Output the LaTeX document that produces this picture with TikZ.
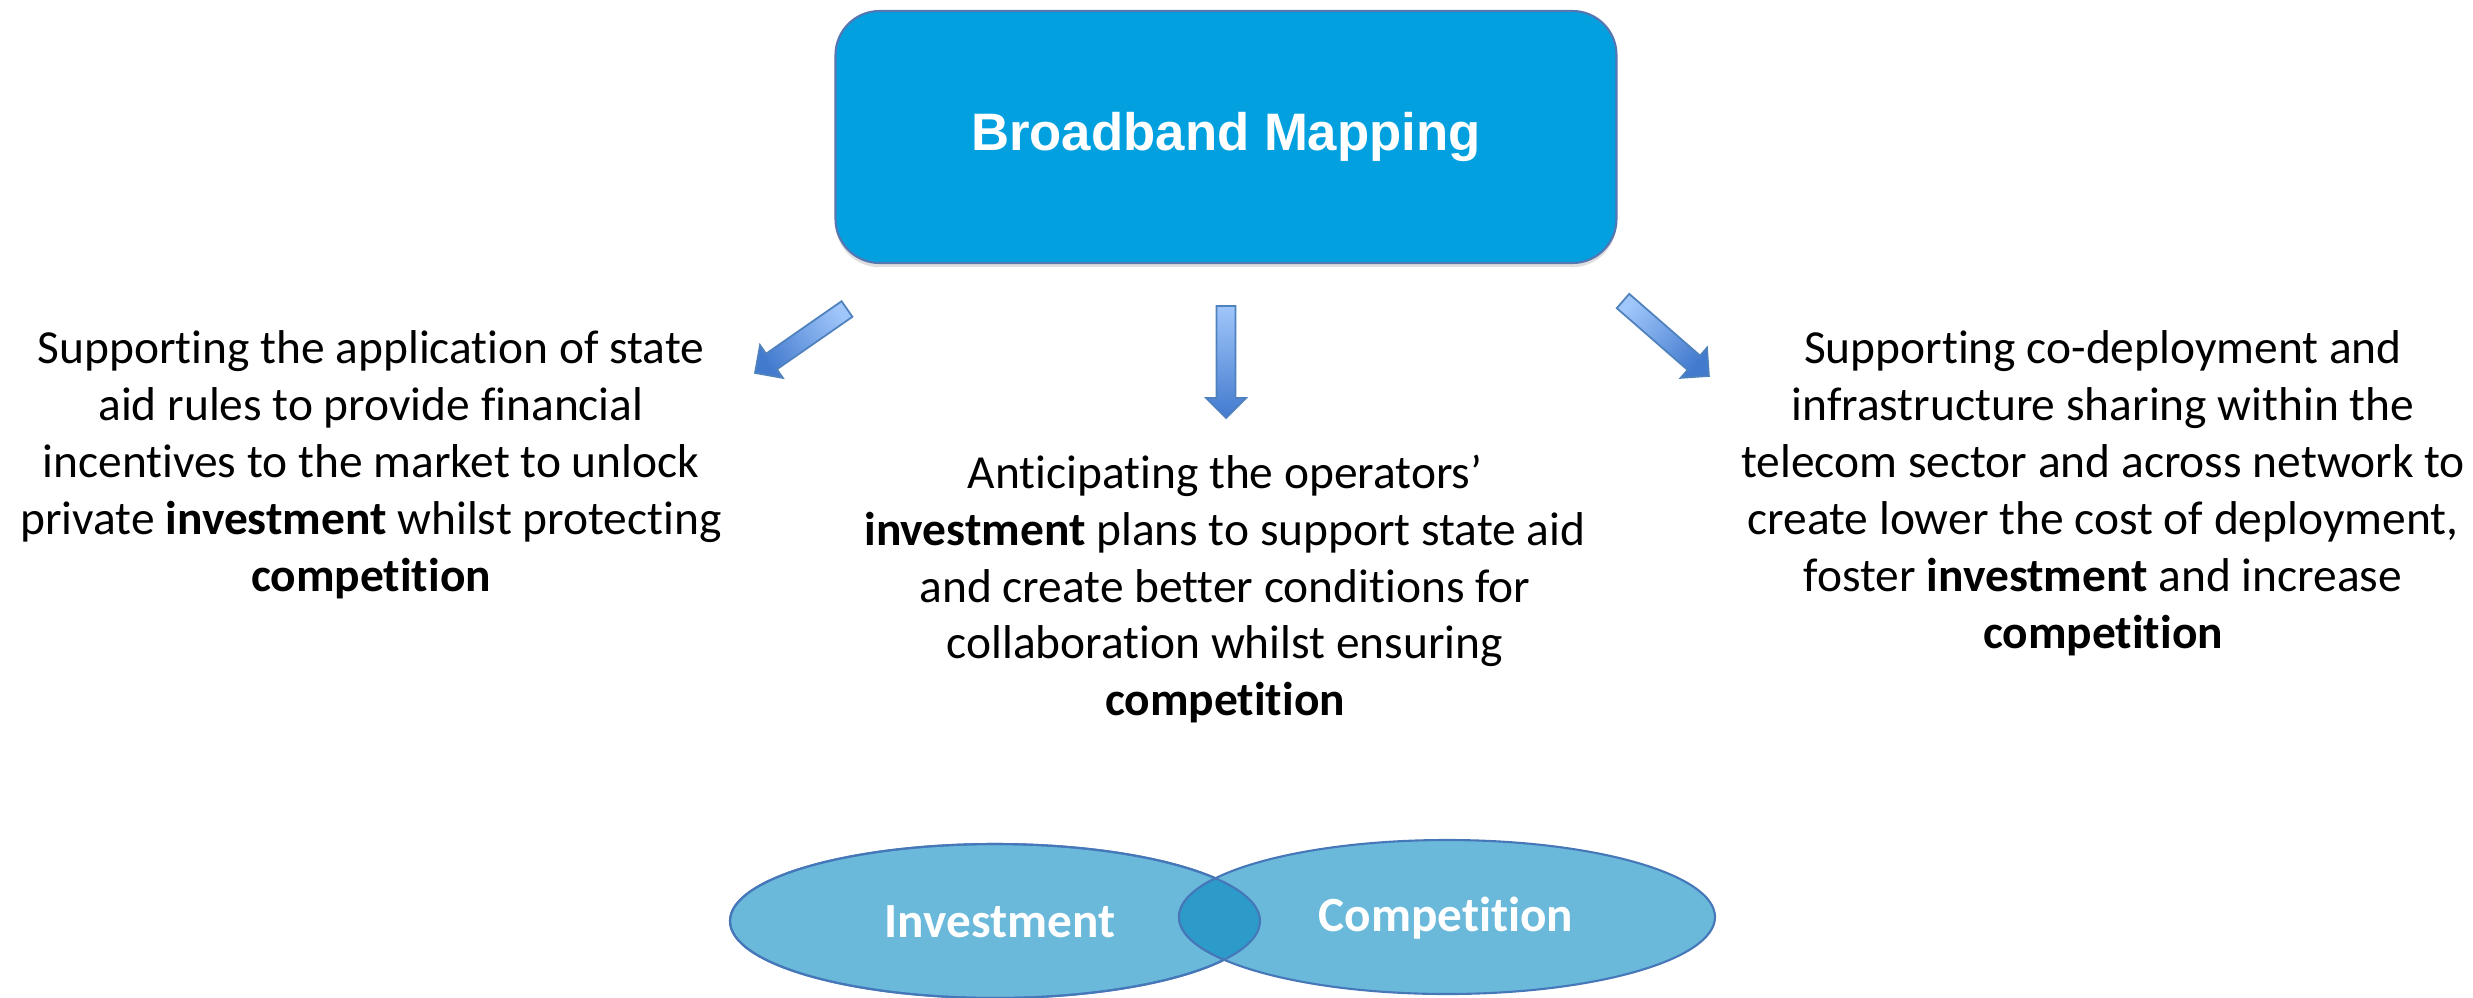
\documentclass[tikz,border=0pt]{standalone}
\usepackage{fontspec}
\setmainfont{Carlito}[Ligatures=NoCommon]
\newfontfamily\headfont{Liberation Sans}
\usetikzlibrary{shadows}

\definecolor{boxblue}{RGB}{3,160,223}
\definecolor{boxedge}{RGB}{84,118,178}
\definecolor{arrlight}{RGB}{160,198,250}
\definecolor{arrdark}{RGB}{66,122,206}
\definecolor{arredge}{RGB}{79,129,189}
\definecolor{vennfill}{RGB}{106,185,219}
\definecolor{vennmid}{RGB}{44,155,201}
\definecolor{vennedge}{RGB}{70,120,185}

\tikzset{
  headbox/.style={draw=boxedge, line width=0.6pt, fill=boxblue, rounded corners=4.4mm,
    drop shadow={shadow xshift=0pt, shadow yshift=-1.2pt, opacity=0.25}},
  bodytext/.style={align=center, font=\fontsize{13.5}{16.2}\selectfont, inner sep=0pt},
  % gradient runs from the tail (light) to the head (dark) along direction #1
  blockarrow/.style={draw=arredge, line width=0.5pt, top color=arrdark, bottom color=arrlight,
    shading angle={#1-90}},
  vennset/.style={draw=vennedge, line width=0.6pt, fill=vennfill},
  vennlabel/.style={text=white, font=\bfseries\fontsize{14}{16}\selectfont}
}

% block arrow of length #4 starting at (#1,#2), pointing at angle #3
\newcommand\blockarr[4]{%
  \begin{scope}[shift={(#1,#2)}, rotate=#3]
    \path[blockarrow=#3] (0mm,-0.95mm) -- ({#4-2mm},-0.95mm) -- ({#4-2mm},-2mm) -- (#4,0mm)
      -- ({#4-2mm},2mm) -- ({#4-2mm},0.95mm) -- (0mm,0.95mm) -- cycle;
  \end{scope}}

\begin{document}
\begin{tikzpicture}[x=0.1mm, y=-0.1mm]
  \useasboundingbox (0,0) rectangle (2473,997);

  % heading box
  \node[headbox, minimum width=78.1mm, minimum height=25.2mm] (head) at (1226,137)
    {\headfont\bfseries\color{white}\fontsize{15}{18}\selectfont Broadband Mapping};

  % arrows from the heading box
  \blockarr{847}{309}{214.8}{11.2mm}
  \blockarr{1226}{306}{-90}{11.2mm}
  \blockarr{1623}{301}{-41.1}{11.4mm}

  % three statements
  \node[bodytext] (left) at (371,465) {Supporting the application of state\\
    aid rules to provide financial\\
    incentives to the market to unlock\\
    private \textbf{investment} whilst protecting\\
    \textbf{competition}};
  \node[bodytext] (mid) at (1225,589) {Anticipating the operators’\\
    \textbf{investment} plans to support state aid\\
    and create better conditions for\\
    collaboration whilst ensuring\\
    \textbf{competition}};
  \node[bodytext] (right) at (2103,493) {Supporting co-deployment and\\
    infrastructure sharing within the\\
    telecom sector and across network to\\
    create lower the cost of deployment,\\
    foster \textbf{investment} and increase\\
    \textbf{competition}};

  % overlapping sets
  \path[vennset] (995,921) ellipse [x radius=265, y radius=77];
  \path[vennset] (1447,917) ellipse [x radius=268, y radius=77];
  \begin{scope}
    \clip (995,921) ellipse [x radius=265, y radius=77];
    \path[draw=vennedge, line width=0.6pt, fill=vennmid] (1447,917) ellipse [x radius=268, y radius=77];
  \end{scope}
  \draw[vennedge, line width=0.6pt] (995,921) ellipse [x radius=265, y radius=77];

  \node[vennlabel] (inv) at (1000,922) {Investment};
  \node[vennlabel] (comp) at (1446,918) {Competition};
\end{tikzpicture}
\end{document}
